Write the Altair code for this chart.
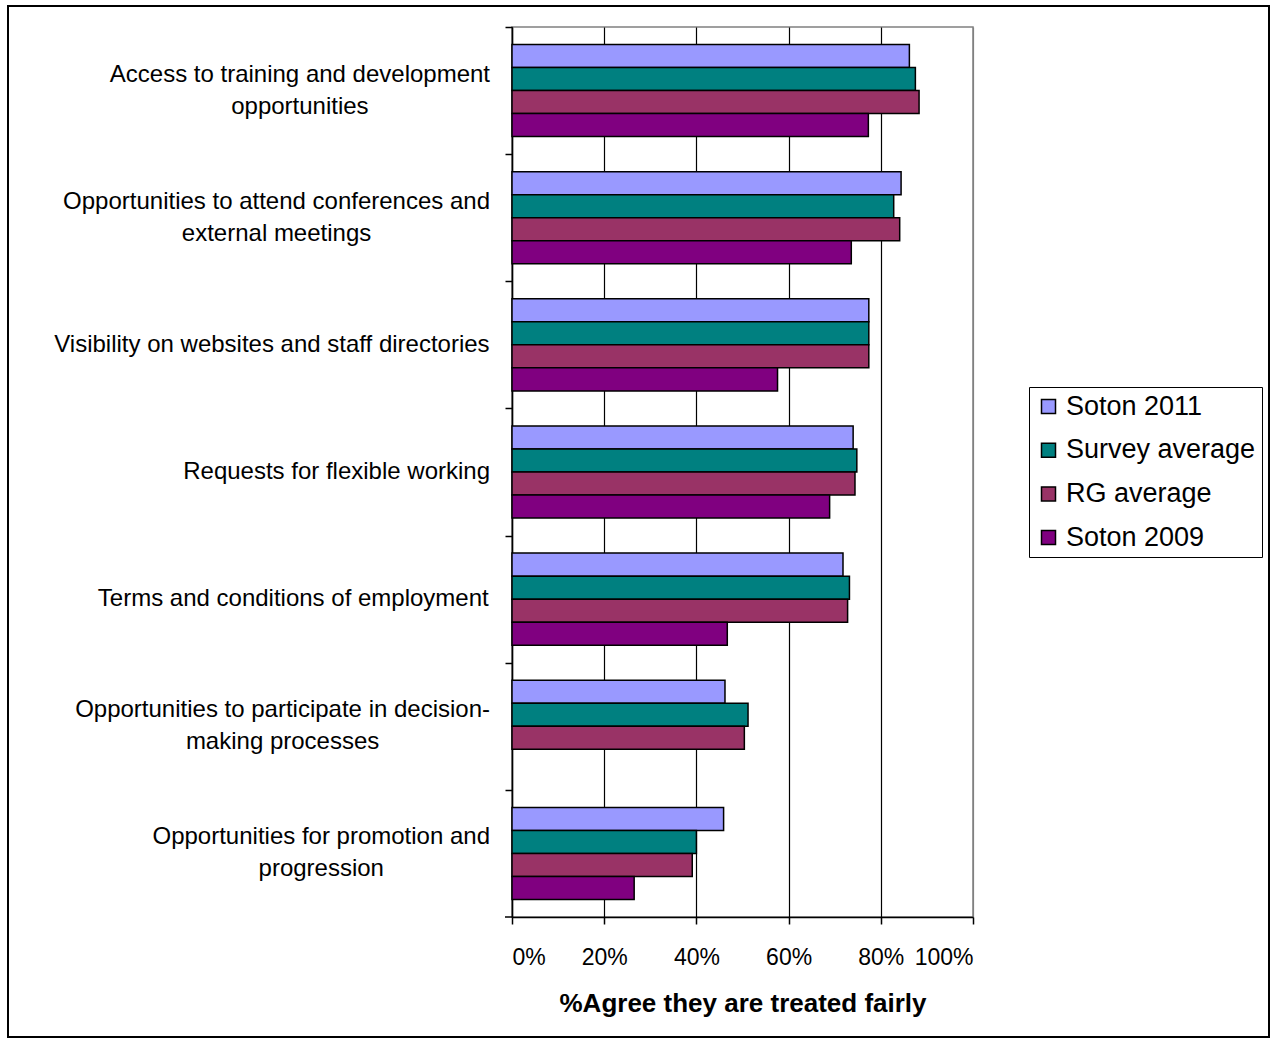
import altair as alt
import pandas as pd

categories = [
    "Access to training and development|opportunities",
    "Opportunities to attend conferences and|external meetings",
    "Visibility on websites and staff directories",
    "Requests for flexible working",
    "Terms and conditions of employment",
    "Opportunities to participate in decision-|making processes",
    "Opportunities for promotion and|progression",
]
series = ["Soton 2011", "Survey average", "RG average", "Soton 2009"]
colors = ["#9999FF", "#008080", "#993366", "#800080"]

soton_2011 = [0.862, 0.844, 0.774, 0.740, 0.718, 0.462, 0.459]
survey_avg = [0.875, 0.828, 0.774, 0.748, 0.732, 0.512, 0.400]
rg_avg = [0.883, 0.841, 0.774, 0.744, 0.728, 0.504, 0.391]
soton_2009 = [0.773, 0.736, 0.576, 0.689, 0.467, None, 0.265]

rows = []
for s, vals in zip(series, [soton_2011, survey_avg, rg_avg, soton_2009]):
    for c, v in zip(categories, vals):
        if v is not None:
            rows.append({"category": c, "series": s, "value": v})
df = pd.DataFrame(rows)

FONT = "Liberation Sans"
LABEL_SIZE = 24
LABEL_GAP = 22          # gap between the right edge of a label block and the axis
N = len(categories)
PLOT_W, PLOT_H = 461, 890
STEP = PLOT_H / N

# Arial / Liberation Sans advance widths (per 1000 em): used to centre the
# lines of each wrapped category label on one another, as Excel does.
_W = {"A": 667, "O": 778, "R": 722, "T": 611, "V": 667, "a": 556, "b": 556,
      "c": 500, "d": 556, "e": 556, "f": 278, "g": 556, "h": 556, "i": 222,
      "k": 500, "l": 222, "m": 833, "n": 556, "o": 556, "p": 556, "q": 556,
      "r": 333, "s": 500, "t": 278, "u": 556, "v": 500, "w": 722, "x": 500,
      "y": 500, "-": 333, " ": 278}


def _px(s):
    return sum(_W.get(ch, 556) for ch in s) / 1000 * LABEL_SIZE


label_rows = []
for c in categories:
    lines = c.split("|")
    widest = max(_px(line) for line in lines)
    label_rows.append({"category": c, "n": len(lines),
                       "cx": -(LABEL_GAP + widest / 2)})
labels_df = pd.DataFrame(label_rows)

y_enc = alt.Y(
    "category:N",
    sort=categories,
    scale=alt.Scale(domain=categories, paddingInner=0.276, paddingOuter=0.138),
    axis=alt.Axis(
        title=None,
        labels=False,
        ticks=True,
        tickOffset=-STEP / 2,
        tickColor="black",
        tickSize=7,
        tickWidth=1.5,
        domain=True,
        domainColor="black",
        domainWidth=1.5,
        grid=False,
    ),
)

bars = alt.Chart(df).mark_bar(stroke="black", strokeWidth=1.5).encode(
    x=alt.X(
        "value:Q",
        scale=alt.Scale(domain=[0, 1], nice=False),
        axis=alt.Axis(
            values=[0, 0.2, 0.4, 0.6, 0.8, 1.0],
            format=".0%",
            title="%Agree they are treated fairly",
            grid=True,
            gridColor={"expr": "datum.value >= 1 ? '#808080' : 'black'"},
            gridWidth=1.2,
            domainColor="black",
            domainWidth=1.5,
            tickColor="black",
            tickSize=7,
            tickWidth=1.5,
            labelFont=FONT,
            labelFontSize=23,
            labelColor="black",
            labelPadding=22,
            titleFont=FONT,
            titleFontSize=26,
            titleFontWeight="bold",
            titleColor="black",
            titlePadding=21,
        ),
    ),
    y=y_enc,
    yOffset=alt.YOffset(
        "series:N",
        sort=series,
        scale=alt.Scale(domain=series, paddingInner=0, paddingOuter=0),
    ),
    color=alt.Color(
        "series:N",
        sort=series,
        scale=alt.Scale(domain=series, range=colors),
        legend=alt.Legend(
            title=None,
            orient="none",
            legendX=517,
            legendY=360,
            symbolType="square",
            symbolSize=196,
            symbolStrokeColor="black",
            symbolStrokeWidth=1.5,
            labelFont=FONT,
            labelFontSize=27,
            labelColor="black",
            labelOffset=4,
            rowPadding=15.7,
            padding=6,
            strokeColor="black",
            fillColor="white",
            labelLimit=400,
        ),
    ),
)

label_base = alt.Chart(labels_df).transform_calculate(
    lines="split(datum.category, '|')"
)
label_enc = dict(
    x=alt.X("cx:Q", scale=None, axis=None),
    y=y_enc,
    text=alt.Text("lines:N"),
)
labels_one = label_base.transform_filter("datum.n == 1").mark_text(
    align="center", baseline="middle", font=FONT, fontSize=LABEL_SIZE,
    color="black", lineHeight=32,
).encode(**label_enc)
labels_two = label_base.transform_filter("datum.n == 2").mark_text(
    align="center", baseline="middle", font=FONT, fontSize=LABEL_SIZE,
    color="black", lineHeight=32, dy=-16,
).encode(**label_enc)

# bottom tick of the category axis (boundary below the last band)
bottom_tick = alt.Chart(pd.DataFrame({"a": [0]})).mark_rule(
    color="black", strokeWidth=1.5
).encode(
    x=alt.value(-7),
    x2=alt.value(0),
    y=alt.value(PLOT_H),
)

border = alt.Chart(pd.DataFrame({"a": [0]})).mark_rect(
    fill="transparent", stroke="black", strokeWidth=2
).encode(
    x=alt.value(-504),
    x2=alt.value(757),
    y=alt.value(-21),
    y2=alt.value(1010),
)

chart = alt.layer(bars, labels_one, labels_two, bottom_tick, border).resolve_scale(
    x="independent"
).properties(
    width=PLOT_W,
    height=PLOT_H,
    autosize=alt.AutoSizeParams(type="none"),
    padding={"left": 512, "top": 27, "right": 301, "bottom": 126},
    background="white",
).configure_view(stroke="#808080", strokeWidth=1.5)

chart.save("out.html", embed_options={"renderer": "svg", "actions": False})
